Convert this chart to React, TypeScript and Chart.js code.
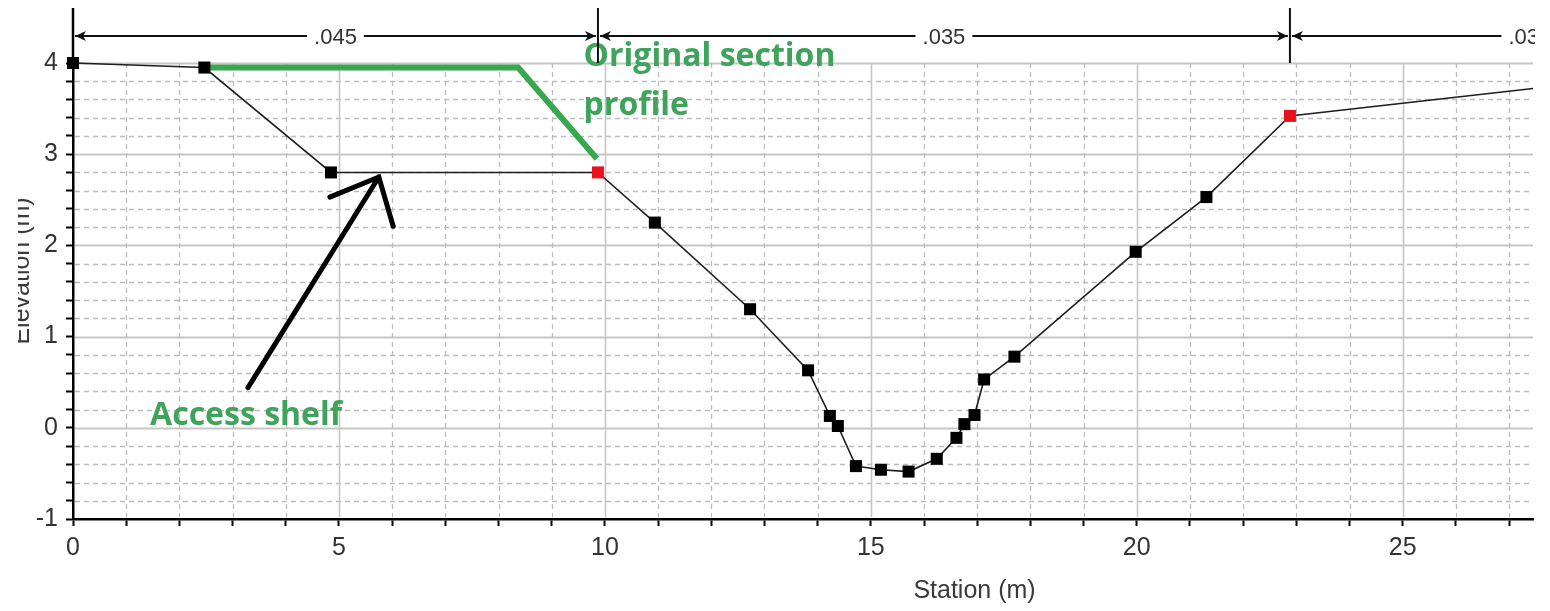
import React, { useEffect, useRef } from "react";
import { Chart, registerables } from "chart.js";
Chart.register(...registerables);

// ---- data ----
const stations = [0, 2.47, 4.85, 9.87, 10.94, 12.73, 13.82, 14.23, 14.38, 14.72, 15.19, 15.71, 16.24, 16.61, 16.76, 16.95, 17.13, 17.7, 19.98, 21.31, 22.88, 27.45];
const elevations = [4.0, 3.95, 2.8, 2.8, 2.25, 1.3, 0.63, 0.13, 0.02, -0.42, -0.46, -0.48, -0.34, -0.11, 0.04, 0.14, 0.53, 0.78, 1.93, 2.53, 3.42, 3.72];
const bankIndexes = [3, 20];
const hiddenMarkerIndexes = [21];
const origStations = [2.47, 8.37, 9.85];
const origElevations = [3.95, 3.95, 2.95];
const manningBounds = [0, 9.87, 22.88, 31.9];
const manningValues = [".045", ".035", ".035"];
const xTitle = "Station (m)";
const yTitle = "Elevation (m)";
const originalLabel = ["Original section", "profile"];
const shelfLabel = "Access shelf";
const shelfArrowTail = [3.29, 0.44];
const shelfArrowTip = [5.75, 2.75];
const shelfArrowHeadA = [4.83, 2.53];
const shelfArrowHeadB = [6.02, 2.21];
const originalLabelAnchor = [9.6, 3.97, 3.43];
const shelfLabelAnchor = [1.45, 0.03];
const xTitleAnchor = 16.95;
const yTitleAnchor = 1.72;
const xMin = 0, xMax = 27.45, yMin = -1, yMax = 4;

const GREEN_LINE = "#37a84e";
const GREEN_TEXT = "#3fa35c";
const TICK_FONT = "Liberation Sans, Arial, sans-serif";

const overlay = {
  id: "overlay",
  beforeDatasetsDraw(chart: any) {
    const { ctx, chartArea: a, scales } = chart;
    const xs = scales.x, ys = scales.y;
    ctx.save();
    for (let i = 1; i <= Math.round((yMax - yMin) / 0.2); i++) {
      const v = yMin + i * 0.2;
      const py = Math.round(ys.getPixelForValue(v)) + 0.5;
      const major = Math.abs(v - Math.round(v)) < 1e-6;
      ctx.beginPath();
      ctx.setLineDash(major ? [] : [5, 4]);
      ctx.strokeStyle = major ? "#c6c6c6" : "#bcbcbc";
      ctx.lineWidth = major ? 2 : 1.4;
      ctx.moveTo(a.left + 2, py);
      ctx.lineTo(a.right, py);
      ctx.stroke();
    }
    for (let v = 1; v <= Math.floor(xMax); v++) {
      const px = Math.round(xs.getPixelForValue(v)) + 0.5;
      const major = v % 5 === 0;
      ctx.beginPath();
      ctx.setLineDash(major ? [] : [5, 4]);
      ctx.strokeStyle = major ? "#c6c6c6" : "#bcbcbc";
      ctx.lineWidth = major ? 1.6 : 1.3;
      ctx.moveTo(px, a.top);
      ctx.lineTo(px, a.bottom - 2);
      ctx.stroke();
    }
    ctx.restore();
  },
  afterDatasetsDraw(chart: any) {
    const { ctx, scales } = chart;
    const xs = scales.x, ys = scales.y;
    const P = (p: number[]) => [xs.getPixelForValue(p[0]), ys.getPixelForValue(p[1])];
    ctx.save();
    ctx.strokeStyle = "#000";
    ctx.lineWidth = 5;
    ctx.lineCap = "round";
    const t = P(shelfArrowTail), tip = P(shelfArrowTip), ha = P(shelfArrowHeadA), hb = P(shelfArrowHeadB);
    ctx.beginPath();
    ctx.moveTo(t[0], t[1]); ctx.lineTo(tip[0], tip[1]);
    ctx.moveTo(ha[0], ha[1]); ctx.lineTo(tip[0], tip[1]); ctx.lineTo(hb[0], hb[1]);
    ctx.stroke();
    ctx.fillStyle = GREEN_TEXT;
    ctx.font = "bold 32px 'Open Sans', Lato, sans-serif";
    ctx.textBaseline = "alphabetic";
    ctx.textAlign = "left";
    const ox = xs.getPixelForValue(originalLabelAnchor[0]);
    ctx.fillText(originalLabel[0], ox, ys.getPixelForValue(originalLabelAnchor[1]));
    ctx.fillText(originalLabel[1], ox, ys.getPixelForValue(originalLabelAnchor[2]));
    ctx.fillText(shelfLabel, xs.getPixelForValue(shelfLabelAnchor[0]), ys.getPixelForValue(shelfLabelAnchor[1]));
    ctx.restore();
  },
  afterDraw(chart: any) {
    const { ctx, chartArea: a, scales } = chart;
    const xs = scales.x, ys = scales.y;
    ctx.save();
    ctx.strokeStyle = "#000";
    ctx.lineWidth = 2.5;
    ctx.beginPath();
    ctx.moveTo(a.left, 8);
    ctx.lineTo(a.left, a.top);
    ctx.stroke();
    ctx.beginPath();
    ctx.rect(0, 0, a.right + 2, a.top);
    ctx.clip();
    const bandY = 36;
    ctx.font = "22px " + TICK_FONT;
    ctx.textBaseline = "middle";
    ctx.textAlign = "center";
    ctx.lineWidth = 2;
    for (let i = 0; i < manningValues.length; i++) {
      const pa = xs.getPixelForValue(manningBounds[i]) + 2;
      const pb = xs.getPixelForValue(manningBounds[i + 1]) - 2;
      const c = (pa + pb) / 2;
      const w = ctx.measureText(manningValues[i]).width;
      ctx.strokeStyle = "#111";
      ctx.beginPath();
      ctx.moveTo(pa, bandY); ctx.lineTo(c - w / 2 - 7, bandY);
      ctx.moveTo(c + w / 2 + 7, bandY); ctx.lineTo(pb, bandY);
      ctx.stroke();
      ctx.fillStyle = "#111";
      ctx.beginPath();
      ctx.moveTo(pa, bandY); ctx.lineTo(pa + 11, bandY - 5); ctx.lineTo(pa + 8, bandY); ctx.lineTo(pa + 11, bandY + 5); ctx.closePath();
      ctx.fill();
      ctx.beginPath();
      ctx.moveTo(pb, bandY); ctx.lineTo(pb - 11, bandY - 5); ctx.lineTo(pb - 8, bandY); ctx.lineTo(pb - 11, bandY + 5); ctx.closePath();
      ctx.fill();
      ctx.fillStyle = "#333";
      ctx.fillText(manningValues[i], c, bandY + 2);
    }
    for (let i = 1; i < manningBounds.length - 1; i++) {
      const px = xs.getPixelForValue(manningBounds[i]);
      ctx.beginPath();
      ctx.moveTo(px, 8);
      ctx.lineTo(px, a.top);
      ctx.stroke();
    }
    ctx.restore();
    ctx.save();
    ctx.fillStyle = "#3a3a3a";
    ctx.font = "25px " + TICK_FONT;
    ctx.textAlign = "center";
    ctx.textBaseline = "middle";
    ctx.fillText(xTitle, xs.getPixelForValue(xTitleAnchor), a.bottom + 72);
    ctx.beginPath();
    ctx.rect(18, 0, 60, a.bottom);
    ctx.clip();
    ctx.translate(29, ys.getPixelForValue(yTitleAnchor));
    ctx.rotate(-Math.PI / 2);
    ctx.textBaseline = "alphabetic";
    ctx.fillText(yTitle, 0, 0);
    ctx.restore();
  },
};

export default function App() {
  const ref = useRef<HTMLCanvasElement | null>(null);
  useEffect(() => {
    if (!ref.current) return;
    const profile = stations.map((s, i) => ({ x: s, y: elevations[i] }));
    const original = origStations.map((s, i) => ({ x: s, y: origElevations[i] }));
    const colors = stations.map((_, i) => (bankIndexes.includes(i) ? "#e8121c" : "#000"));
    const radii = stations.map((_, i) => (hiddenMarkerIndexes.includes(i) ? 0 : 8.5));
    const chart = new Chart(ref.current, {
      type: "line",
      data: {
        datasets: [
          {
            data: profile,
            borderColor: "#1e1e1e",
            borderWidth: 1.6,
            pointStyle: "rect",
            pointRadius: radii,
            pointBackgroundColor: colors,
            pointBorderColor: colors,
            pointBorderWidth: 0,
            clip: false,
            order: 0,
          } as any,
          {
            data: original,
            borderColor: GREEN_LINE,
            borderWidth: 6,
            pointRadius: 0,
            borderJoinStyle: "miter",
            order: 1,
          } as any,
        ],
      },
      options: {
        animation: false,
        responsive: false,
        events: [],
        layout: { padding: { top: 63, left: 0, right: 17, bottom: 0 } },
        plugins: { legend: { display: false }, tooltip: { enabled: false } },
        scales: {
          x: {
            type: "linear",
            min: xMin,
            max: xMax,
            afterFit: (s: any) => { s.height = 92; },
            ticks: {
              stepSize: 1,
              autoSkip: false,
              maxRotation: 0,
              includeBounds: false,
              padding: 7,
              color: "#333",
              font: { size: 25, family: TICK_FONT },
              callback: (v: any) => (Math.abs(v % 5) < 1e-6 ? String(Math.round(v)) : ""),
            },
            grid: { drawOnChartArea: false, drawTicks: true, tickLength: 7, tickColor: "#000", tickWidth: 2 },
            border: { color: "#000", width: 2.5 },
          },
          y: {
            type: "linear",
            min: yMin,
            max: yMax,
            afterFit: (s: any) => { s.width = 73; },
            ticks: {
              stepSize: 0.2,
              autoSkip: false,
              includeBounds: false,
              padding: 8,
              color: "#333",
              font: { size: 25, family: TICK_FONT },
              callback: (v: any) => (Math.abs(v - Math.round(v)) < 1e-6 ? String(Math.round(v)) : ""),
            },
            grid: { drawOnChartArea: false, drawTicks: true, tickLength: 7, tickColor: "#000", tickWidth: 2 },
            border: { color: "#000", width: 2.5 },
          },
        },
      },
      plugins: [overlay],
    } as any);
    return () => chart.destroy();
  }, []);
  return (
    <div style={{ position: "fixed", left: 0, top: 0, width: 1550, height: 611, background: "#fff" }}>
      <canvas ref={ref} width={1550} height={611} style={{ display: "block" }} />
    </div>
  );
}
